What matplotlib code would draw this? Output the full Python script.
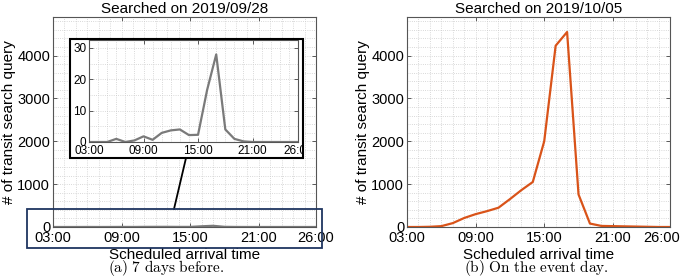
import numpy as np
import matplotlib
matplotlib.use("Agg")
import matplotlib.pyplot as plt
import matplotlib.transforms as mtransforms
from matplotlib.patches import Rectangle
from matplotlib.lines import Line2D
from matplotlib.ticker import MultipleLocator

plt.rcParams['font.family'] = ['Liberation Sans', 'DejaVu Sans']
plt.rcParams['mathtext.fontset'] = 'cm'

# scheduled arrival hour (03:00 .. 26:00)
hours = np.arange(3, 27)
tick_hours = [3, 9, 15, 21, 26]
tick_labels = ["03:00", "09:00", "15:00", "21:00", "26:00"]

# queries searched 7 days before (2019/09/28)
before = [0, 0, 0, 1.0, 0, 0.5, 1.8, 0.7, 2.9, 3.7, 4.0, 2.2,
          2.3, 16.6, 27.9, 4.0, 1.0, 0.2, 0, 0, 0, 0, 0, 0]
# queries searched on the event day (2019/10/05)
event = [0, 0, 5, 20, 90, 210, 300, 370, 450, 650, 860, 1050,
         2000, 4230, 4550, 760, 80, 25, 20, 15, 10, 5, 0, 0]

titles = ["Searched on 2019/09/28", "Searched on 2019/10/05"]
captions = [r"$\mathrm{(a)\ 7\ days\ before.}$", r"$\mathrm{(b)\ On\ the\ event\ day.}$"]

W, H = 685, 277
fig = plt.figure(figsize=(W / 100, H / 100), dpi=100)


def px(x0, y0, x1, y1):
    return [x0 / W, 1 - y1 / H, (x1 - x0) / W, (y1 - y0) / H]


def style(ax, ymax, ymajor, yminor, fs, xpad):
    ax.set_xlim(3, 26)
    ax.set_ylim(0, ymax)
    ax.set_xticks(tick_hours)
    ax.set_xticklabels(tick_labels)
    ax.yaxis.set_major_locator(MultipleLocator(ymajor))
    ax.yaxis.set_minor_locator(MultipleLocator(yminor))
    ax.xaxis.set_minor_locator(MultipleLocator(1))
    ax.grid(which='both', linestyle=':', color='#cccccc', linewidth=0.6)
    ax.set_axisbelow(True)
    ax.tick_params(which='major', direction='in', top=True, right=True,
                   length=3, width=0.6, color='#404040', labelsize=fs, pad=2)
    ax.tick_params(axis='x', which='major', pad=xpad)
    ax.tick_params(which='minor', length=0)
    for s in ax.spines.values():
        s.set_color('#555555')
        s.set_linewidth(0.8)


axes = [fig.add_axes(px(53, 17, 316, 227)), fig.add_axes(px(407, 17, 670, 227))]
data = [before, event]
colors = ['#7a7a7a', '#D95319']
caption_x = [166, 536]
for i, ax in enumerate(axes):
    ax.plot(hours, data[i], color=colors[i], lw=1.6)
    style(ax, 4900, 1000, 200, 10.5, 3)
    ax.set_title(titles[i], fontsize=11, pad=3)
    ax.set_ylabel("# of transit search query", fontsize=11, labelpad=1)
    ax.set_xlabel("Scheduled arrival time", fontsize=11, labelpad=2)
    fig.text(caption_x[i] / W, 5 / H, captions[i], ha='center', va='baseline', fontsize=11)

# last tick label of panel (b) sits a bit inside the figure edge
last = axes[1].get_xticklabels()[-1]
last.set_transform(last.get_transform() +
                   mtransforms.ScaledTranslation(-8 / 100, 0, fig.dpi_scale_trans))

# inset frame with zoomed view
frame = Rectangle((70 / W, 1 - 158 / H), 233 / W, 119 / H, transform=fig.transFigure,
                  facecolor='white', edgecolor='none', zorder=3)
fig.patches.append(frame)
ins = fig.add_axes(px(89, 40, 298, 142))
ins.set_zorder(4)
ins.plot(hours, before, color='#7a7a7a', lw=1.6)
style(ins, 32.5, 10, 5, 8.5, 2)
border = Rectangle((70 / W, 1 - 158 / H), 233 / W, 119 / H, transform=fig.transFigure,
                   facecolor='none', edgecolor='black', lw=1.5, zorder=10)
fig.patches.append(border)
clip = Rectangle((70 / W, 1 - 158 / H), 233 / W, 119 / H, transform=fig.transFigure,
                 facecolor='none', edgecolor='none')
for lab in ins.get_xticklabels():
    lab.set_clip_on(True)
    lab.set_clip_path(clip)

# highlight box around the bottom of panel (a) and connector
fig.patches.append(Rectangle((27 / W, 1 - 247.5 / H), 294.5 / W, 38.5 / H,
                             transform=fig.transFigure, facecolor='none',
                             edgecolor='#1f3560', lw=1.3, zorder=10))
fig.lines.append(Line2D([186 / W, 174 / W], [1 - 158 / H, 1 - 209 / H],
                        transform=fig.transFigure, color='black', lw=1.3, zorder=10))

fig.savefig("out.png", dpi=100)
